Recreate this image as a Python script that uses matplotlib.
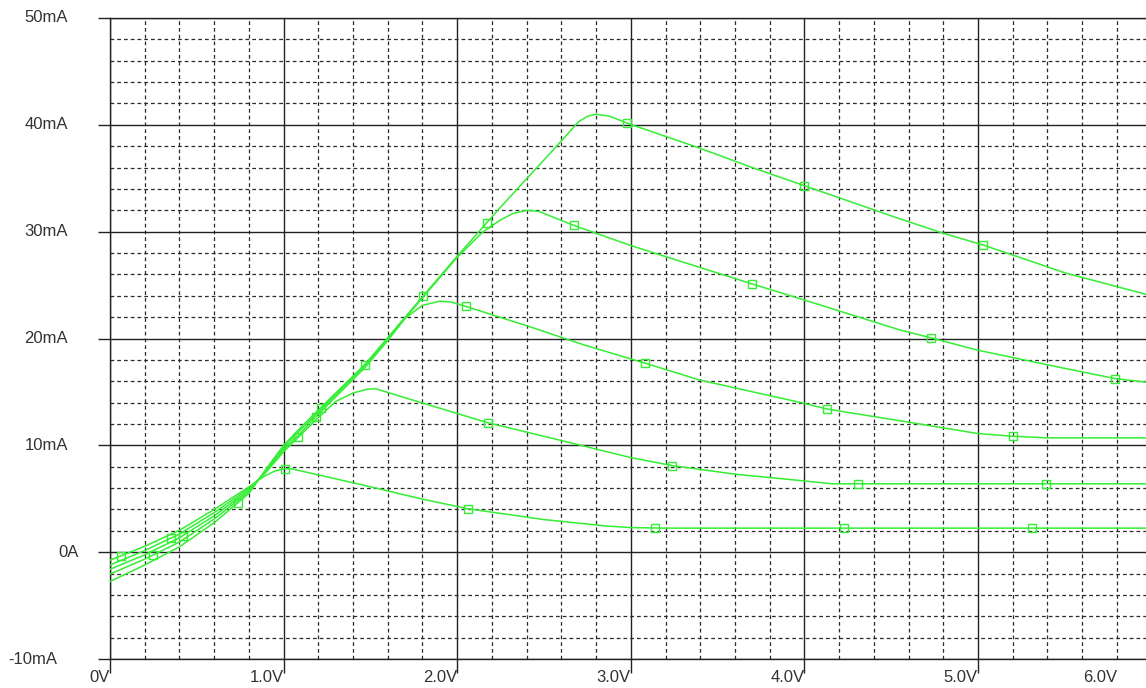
import numpy as np
import matplotlib
matplotlib.use("Agg")
from matplotlib import pyplot as plt
from matplotlib.ticker import MultipleLocator

plt.rcParams['font.family'] = ['Liberation Sans', 'DejaVu Sans']

# curve data: V (volts) vs I (mA)
c1_v = [0, 0.2, 0.4, 0.6, 0.8, 0.85, 0.9, 0.95, 1.0, 1.05, 1.1, 1.48, 1.79, 2.06, 2.5, 2.86, 3.0, 3.2, 6.0]
c1_i = [-0.75, 0.55, 2.05, 4.0, 6.1, 6.7, 7.2, 7.6, 7.8, 7.8, 7.6, 6.2, 5.0, 4.07, 3.05, 2.45, 2.3, 2.25, 2.25]

c2_v = [0, 0.2, 0.4, 0.6, 0.8, 0.9, 1.0, 1.1, 1.2, 1.3, 1.4, 1.48, 1.53, 1.6, 1.67, 2.18, 2.6, 3.0, 3.24, 3.6,
        3.98, 4.16, 6.0]
c2_i = [-1.2, 0.15, 1.7, 3.7, 5.95, 7.5, 9.4, 11.0, 12.6, 14.1, 14.9, 15.25, 15.3, 14.95, 14.6, 12.1, 10.45, 8.85, 8.1, 7.3,
        6.7, 6.4, 6.4]

c3_v = [0, 0.2, 0.4, 0.6, 0.8, 0.9, 1.0, 1.1, 1.2, 1.47, 1.6, 1.7, 1.8, 1.9, 1.97, 2.05, 2.4, 2.73, 3.08, 3.4,
        3.98, 4.13, 4.55, 5.0, 5.2, 5.4, 6.0]
c3_i = [-1.6, -0.25, 1.35, 3.4, 5.8, 7.6, 9.6, 11.2, 12.9, 17.3, 19.8, 21.9, 23.1, 23.5, 23.4, 23.0, 21.2, 19.4, 17.7, 16.1,
        14.0, 13.4, 12.3, 11.1, 10.85, 10.7, 10.7]

c4_v = [0, 0.2, 0.4, 0.6, 0.8, 0.9, 1.0, 1.1, 1.2, 1.47, 1.805, 2.0, 2.15, 2.25, 2.32, 2.4, 2.47, 2.67, 3.0, 3.7,
        4.0, 4.55, 4.73, 5.0, 5.5, 5.79, 6.0]
c4_i = [-2.05, -0.65, 0.95, 3.1, 5.65, 7.7, 9.8, 11.5, 13.1, 17.5, 23.9, 27.6, 30.0, 31.1, 31.7, 32.0, 31.9, 30.6, 28.7, 25.1,
        23.6, 20.8, 20.06, 18.9, 17.2, 16.25, 15.85]

c5_v = [0, 0.2, 0.4, 0.6, 0.8, 0.9, 1.0, 1.1, 1.2, 1.47, 1.805, 2.0, 2.25, 2.55, 2.7, 2.75, 2.8, 2.88, 2.98, 3.4,
        3.7, 4.0, 4.55, 4.8, 5.03, 5.51, 6.0]
c5_i = [-2.75, -1.2, 0.5, 2.75, 5.5, 7.8, 10.0, 11.7, 13.3, 17.6, 24.0, 27.7, 32.3, 37.6, 40.3, 40.8, 41.0, 40.8, 40.15, 37.8,
        36.0, 34.3, 31.2, 29.85, 28.75, 26.1, 24.0]

# marker positions (V) on each trace
m1 = [0.063, 1.01, 2.06, 3.14, 4.23, 5.31]
m2 = [0.35, 1.085, 2.18, 3.24, 4.31, 5.39]
m3 = [0.42, 1.185, 2.05, 3.08, 4.13, 5.2]
m4 = [0.25, 1.47, 2.67, 3.70, 4.73, 5.79]
m5 = [0.735, 1.215, 1.805, 2.17, 2.98, 4.0, 5.03]

x_labels = ['0V', '1.0V', '2.0V', '3.0V', '4.0V', '5.0V']
y_ticks = [50, 40, 30, 20, 10, 0, -10]
y_labels = ['50mA', '40mA', '30mA', '20mA', '10mA', '0A', '-10mA']

W, H = 1146, 688
fig = plt.figure(figsize=(W / 100, H / 100), dpi=100)
x0, x1 = 110, 110 + 6 * 173.6
y_top, y_bot = 18, 659
ax = fig.add_axes([x0 / W, (H - y_bot) / H, (x1 - x0) / W, (y_bot - y_top) / H])
ax.set_xlim(0, 6)
ax.set_ylim(-10, 50)

green = '#33ee33'
traces = [(c1_v, c1_i, m1), (c2_v, c2_i, m2), (c3_v, c3_i, m3), (c4_v, c4_i, m4), (c5_v, c5_i, m5)]
for v, i, m in traces:
    ax.plot(v, i, color=green, lw=1.1, zorder=3)
    ax.plot(m, np.interp(m, v, i), ls='none', marker='s', ms=6, mfc='none', mec=green, mew=1.0, zorder=4)

# grid
ax.xaxis.set_major_locator(MultipleLocator(1))
ax.xaxis.set_minor_locator(MultipleLocator(0.2))
ax.yaxis.set_major_locator(MultipleLocator(10))
ax.yaxis.set_minor_locator(MultipleLocator(2))
ax.grid(which='major', color='#222222', lw=1.0, ls='-', zorder=1)
ax.grid(which='minor', color='#2a2a2a', lw=0.9, ls=(0, (3.0, 2.4)), zorder=1)
ax.set_axisbelow(True)

ax.spines['right'].set_visible(False)
for s in ['left', 'bottom', 'top']:
    ax.spines[s].set_color('#222222')
    ax.spines[s].set_linewidth(1.0)

tick_len = 10
tick_pad = -2
ax.set_xticks(range(6))
ax.set_xticklabels(x_labels, fontsize=12, color='#333333')
for lab in ax.get_xticklabels():
    lab.set_ha('right')
ax.tick_params(axis='x', which='major', length=tick_len, width=1.0, color='#222222', pad=tick_pad)
ax.tick_params(axis='x', which='minor', length=0)
ax.tick_params(axis='y', which='major', length=8.6, width=1.0, color='#222222', labelleft=False)
ax.tick_params(axis='y', which='minor', length=0)

# 6.0V label is pulled inside the visible area, like the original
ax.annotate('6.0V', xy=(1117 / W, 0), xycoords=('figure fraction', 'axes fraction'),
            xytext=(0, -(tick_len + tick_pad)), textcoords='offset points',
            ha='right', va='top', fontsize=12, color='#333333', annotation_clip=False)

# y labels placed like the original
y_right = {'0A': 79, '-10mA': 57}
for val, lab in zip(y_ticks, y_labels):
    xr = y_right.get(lab, 68)
    ax.annotate(lab, xy=(xr / W, val), xycoords=('figure fraction', 'data'),
                ha='right', va='center', fontsize=12, color='#333333', annotation_clip=False)

fig.savefig('out.png', dpi=100)
